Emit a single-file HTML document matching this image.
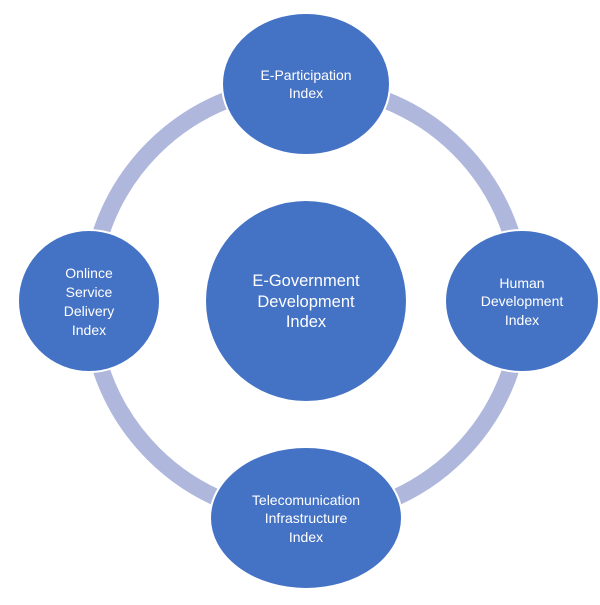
<!DOCTYPE html>
<html><head><style>body{margin:0;background:#fff}</style></head><body>
<svg width="600" height="600" viewBox="0 0 600 600" xmlns="http://www.w3.org/2000/svg" font-family="Liberation Sans, sans-serif" fill="#fff">
<rect width="600" height="600" fill="#fff"/>
<ellipse cx="306" cy="301" rx="216" ry="216" fill="none" stroke="#afb8dc" stroke-width="17"/>
<g fill="#4472c4" stroke="#fff" stroke-width="2">
<ellipse cx="306" cy="84" rx="84" ry="71"/>
<ellipse cx="89" cy="301" rx="71" ry="71"/>
<ellipse cx="522" cy="301" rx="77" ry="71"/>
<ellipse cx="306" cy="518" rx="96" ry="71"/>
<circle cx="306" cy="301" r="101"/>
</g>
<g text-anchor="middle" font-size="14">
<text x="306" y="80">E-Participation</text>
<text x="306" y="98">Index</text>
<text x="89" y="278">Onlince</text>
<text x="89" y="297">Service</text>
<text x="89" y="316">Delivery</text>
<text x="89" y="335">Index</text>
<text x="522" y="288">Human</text>
<text x="522" y="306">Development</text>
<text x="522" y="325">Index</text>
<text x="306" y="505">Telecomunication</text>
<text x="306" y="523">Infrastructure</text>
<text x="306" y="542">Index</text>
</g>
<g text-anchor="middle" font-size="16.5">
<text x="306" y="286">E-Government</text>
<text x="306" y="307">Development</text>
<text x="306" y="327">Index</text>
</g>
</svg>
</body></html>
